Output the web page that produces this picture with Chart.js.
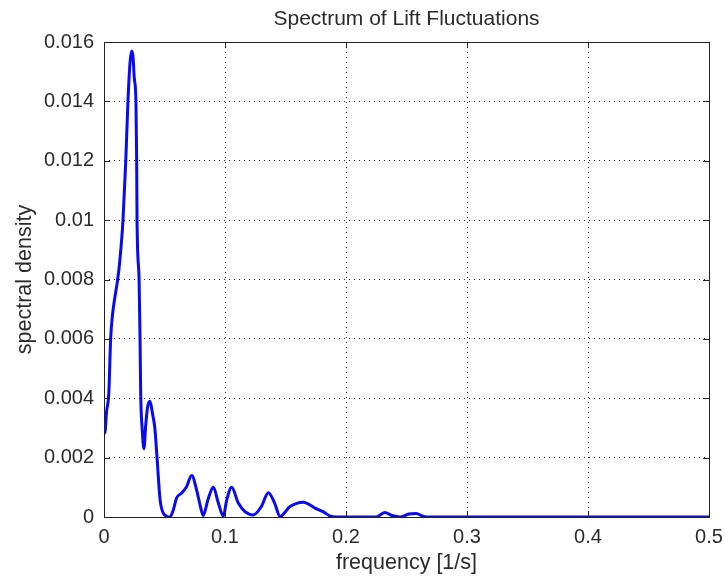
<!DOCTYPE html>
<html lang="en">
<head>
  <meta charset="UTF-8" />
  <title>Spectrum of Lift Fluctuations</title>
  <script src="https://cdn.jsdelivr.net/npm/chart.js"></script>
  <style>
    body { margin: 0; padding: 0; background: #fff; }
    #wrap { width: 724px; height: 579px; }
  </style>
</head>
<body>
  <div id="wrap"><canvas id="spectrumChart" width="724" height="579"></canvas></div>
  <script>
    // frequency [1/s] and spectral density
    const frequency = [
      0, 0.001, 0.002, 0.004, 0.0055, 0.007, 0.009, 0.0113, 0.013, 0.0157,
      0.018, 0.0198, 0.0215, 0.0229, 0.024, 0.025, 0.0264, 0.027, 0.0273, 0.029,
      0.0298, 0.0303, 0.0315, 0.033, 0.0345, 0.036, 0.038, 0.040, 0.042, 0.044,
      0.0463, 0.049, 0.0545, 0.057, 0.060, 0.064, 0.068, 0.0725, 0.0766, 0.080,
      0.082, 0.086, 0.0904, 0.0945, 0.0986, 0.1014, 0.1055, 0.111, 0.1165, 0.1234,
      0.130, 0.1358, 0.141, 0.1455, 0.1537, 0.1647, 0.1744, 0.181, 0.187, 0.192,
      0.225, 0.232, 0.238, 0.245, 0.252, 0.258, 0.264, 0.27, 0.5
    ];
    const density = [
      0.0028, 0.0029, 0.0035, 0.0042, 0.006, 0.0068, 0.0074, 0.008, 0.0086, 0.01,
      0.012, 0.014, 0.0153, 0.0157, 0.0155, 0.0148, 0.014, 0.012, 0.01, 0.008,
      0.006, 0.0042, 0.003, 0.0023, 0.0031, 0.0037, 0.0039, 0.0035, 0.003, 0.0019,
      0.0006, 0.00013, 0, 0.0002, 0.00064, 0.0008, 0.001, 0.0014, 0.0009, 0.0003,
      0.00005, 0.0006, 0.001, 0.00047, 0.00003, 0.00057, 0.001, 0.00047, 0.00018, 0.00007,
      0.00035, 0.00082, 0.00047, 0.00002, 0.00035, 0.0005, 0.0003, 0.00018, 0.00003, 0,
      0, 0.00015, 0.00005, 0, 0.0001, 0.00012, 0.00002, 0, 0
    ];
    const xTickLabels = ['0', '0.1', '0.2', '0.3', '0.4', '0.5'];
    const yTickLabels = ['0', '0.002', '0.004', '0.006', '0.008', '0.01', '0.012', '0.014', '0.016'];

    const textColor = '#2b2b2b';
    const family = 'Liberation Sans, Arial, sans-serif';
    const tickFont = { family: family, size: 20 };
    const labelFont = { family: family, size: 21.5 };

    // MATLAB-like frame: solid box with short inward ticks on every side
    const boxTicks = {
      id: 'boxTicks',
      afterDraw(chart) {
        const { ctx, chartArea: a, scales } = chart;
        const len = 6;
        ctx.save();
        ctx.strokeStyle = '#222';
        ctx.lineWidth = 1;
        ctx.beginPath();
        scales.x.ticks.forEach(t => {
          const px = Math.round(scales.x.getPixelForValue(t.value)) + 0.5;
          ctx.moveTo(px, a.bottom); ctx.lineTo(px, a.bottom - len);
          ctx.moveTo(px, a.top); ctx.lineTo(px, a.top + len);
        });
        scales.y.ticks.forEach(t => {
          const py = Math.round(scales.y.getPixelForValue(t.value)) + 0.5;
          ctx.moveTo(a.left, py); ctx.lineTo(a.left + len, py);
          ctx.moveTo(a.right, py); ctx.lineTo(a.right - len, py);
        });
        ctx.stroke();
        ctx.strokeRect(Math.round(a.left) + 0.5, Math.round(a.top) + 0.5,
          Math.round(a.right - a.left), Math.round(a.bottom - a.top));
        ctx.restore();
      }
    };

    new Chart(document.getElementById('spectrumChart'), {
      type: 'line',
      data: {
        datasets: [{
          data: frequency.map((f, i) => ({ x: f, y: density[i] })),
          borderColor: '#0a0af0',
          borderWidth: 3,
          pointRadius: 0,
          fill: false,
          cubicInterpolationMode: 'monotone'
        }]
      },
      options: {
        responsive: false,
        animation: false,
        layout: { padding: { left: 0, right: 15, top: 0, bottom: 0 } },
        plugins: {
          legend: { display: false },
          tooltip: { enabled: false }
        },
        scales: {
          x: {
            type: 'linear',
            min: 0,
            max: 0.5,
            afterFit: s => { s.height = 62; s.paddingLeft = 0; s.paddingRight = 0; },
            border: { display: false, dash: [1, 4] },
            grid: { color: '#222', drawTicks: false },
            ticks: {
              stepSize: 0.1,
              padding: 8,
              color: textColor,
              font: tickFont,
              maxRotation: 0,
              callback: (v, i) => xTickLabels[i]
            },
            title: {
              display: true,
              text: 'frequency [1/s]',
              color: textColor,
              font: labelFont,
              padding: { top: 0, bottom: 3 }
            }
          },
          // top axis only carries the chart title, centred over the plot box
          top: {
            type: 'linear',
            position: 'top',
            min: 0,
            max: 0.5,
            afterFit: s => { s.height = 42; s.paddingLeft = 0; s.paddingRight = 0; },
            border: { display: false },
            grid: { display: false },
            ticks: { display: false },
            title: {
              display: true,
              text: 'Spectrum of Lift Fluctuations',
              color: textColor,
              font: { family: family, size: 21 },
              padding: { top: 7, bottom: 0 }
            }
          },
          y: {
            min: 0,
            max: 0.016,
            afterFit: s => { s.width = 104; },
            border: { display: false, dash: [1, 4] },
            grid: { color: '#222', drawTicks: false },
            ticks: {
              stepSize: 0.002,
              padding: 10,
              color: textColor,
              font: tickFont,
              callback: (v, i) => yTickLabels[i]
            },
            title: {
              display: true,
              text: 'spectral density',
              color: textColor,
              font: labelFont,
              padding: { top: 12, bottom: 0 }
            }
          }
        }
      },
      plugins: [boxTicks]
    });
  </script>
</body>
</html>
